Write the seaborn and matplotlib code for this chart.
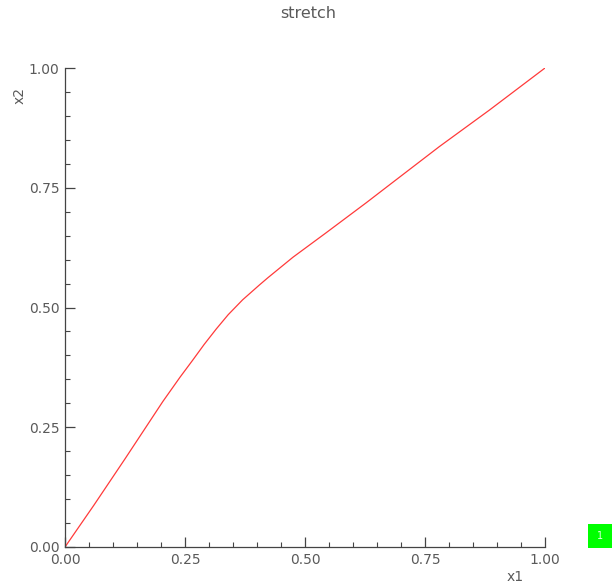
import matplotlib
matplotlib.use("Agg")
import matplotlib.pyplot as plt
import seaborn as sns
import pandas as pd
from matplotlib.ticker import MultipleLocator, FormatStrFormatter
from matplotlib.patches import Rectangle

x1 = [0.0, 0.06, 0.125, 0.204, 0.24, 0.266, 0.29, 0.315, 0.34, 0.37, 0.405, 0.4225, 0.475, 0.544, 0.628, 0.676, 0.78, 0.884, 1.0]
x2 = [0.0, 0.087, 0.184, 0.304, 0.355, 0.39, 0.423, 0.455, 0.485, 0.516, 0.547, 0.562, 0.605, 0.656, 0.719, 0.756, 0.836, 0.912, 1.0]
title = "stretch"
xlabel = "x1"
ylabel = "x2"
badge = "1"

sns.set_theme(style="ticks")
plt.rcParams['font.family'] = ['DejaVu Sans']

df = pd.DataFrame({"x1": x1, "x2": x2})

fig = plt.figure(figsize=(6.16, 5.86), dpi=100)
ax = fig.add_axes([65/616, 39/586, 480/616, 479/586])
sns.lineplot(data=df, x="x1", y="x2", ax=ax, color="#ff3a3a", linewidth=0.9, sort=False)

ax.set_xlim(0, 1)
ax.set_ylim(0, 1)
ax.xaxis.set_major_locator(MultipleLocator(0.25))
ax.yaxis.set_major_locator(MultipleLocator(0.25))
ax.xaxis.set_minor_locator(MultipleLocator(0.05))
ax.yaxis.set_minor_locator(MultipleLocator(0.05))
ax.xaxis.set_major_formatter(FormatStrFormatter("%.2f"))
ax.yaxis.set_major_formatter(FormatStrFormatter("%.2f"))
ax.tick_params(which="major", direction="in", length=7, width=0.9, color="#444444",
               labelsize=10, labelcolor="#5a5a5a", pad=4)
ax.tick_params(which="minor", direction="in", length=3.5, width=0.8, color="#444444")
for s in ["top", "right"]:
    ax.spines[s].set_visible(False)
for s in ["left", "bottom"]:
    ax.spines[s].set_color("#444444")
    ax.spines[s].set_linewidth(0.9)

ax.set_xlabel("")
ax.set_ylabel("")
fig.text(515/616, 1 - 577/586, xlabel, ha="center", va="center", fontsize=10, color="#5a5a5a")
fig.text(20/616, 1 - 95/586, ylabel, ha="center", va="center", rotation=90, fontsize=10, color="#5a5a5a")
fig.text(308/616, 1 - 14/586, title, ha="center", va="center", fontsize=11.5, color="#5a5a5a")

fig.patches.append(Rectangle((588/616, 1 - 548/586), 24/616, 24/586, transform=fig.transFigure,
                             facecolor="#00ff00", edgecolor="none"))
fig.text(600/616, 1 - 536/586, badge, ha="center", va="center", fontsize=7, color="#e0ffe0")

fig.savefig("out.png", dpi=100)
